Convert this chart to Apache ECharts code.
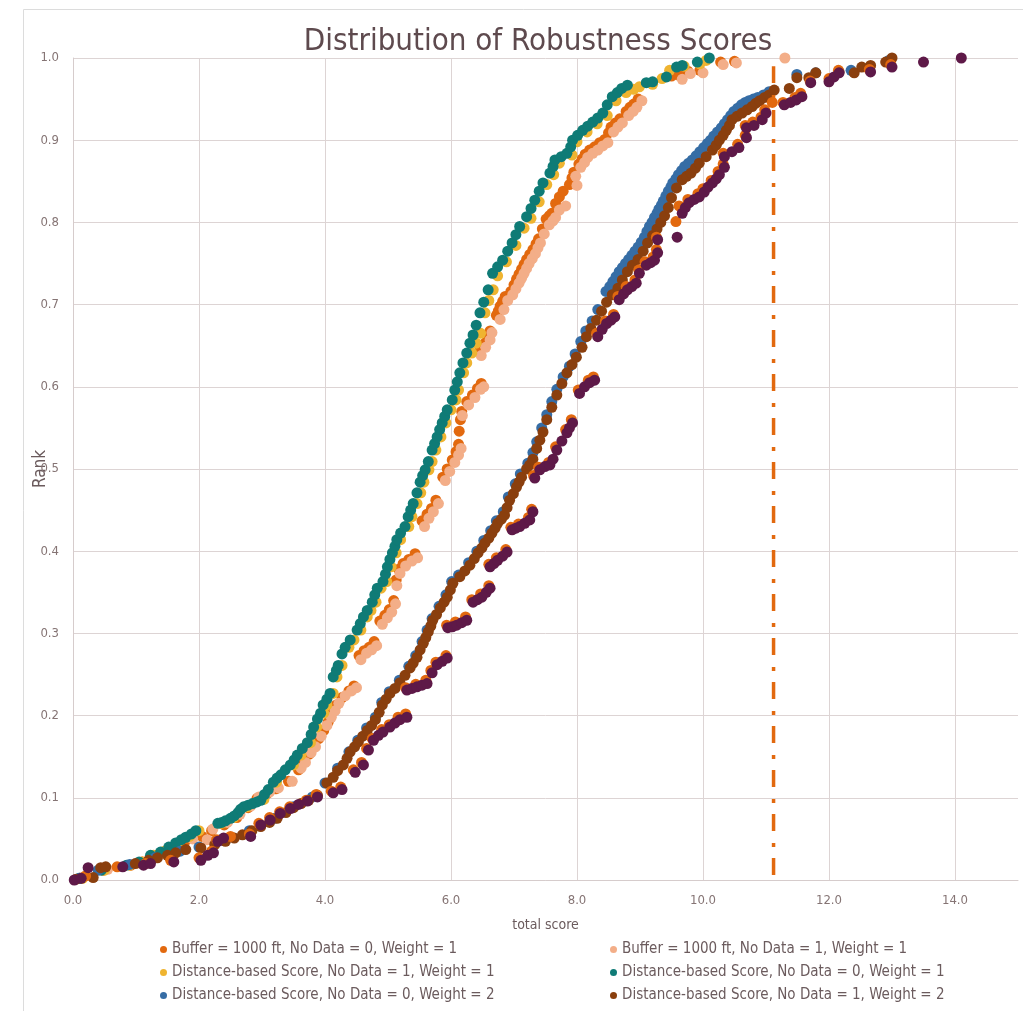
<!DOCTYPE html>
<html>
<head>
<meta charset="utf-8">
<title>Distribution of Robustness Scores</title>
<script src="https://cdn.jsdelivr.net/npm/echarts@6/dist/echarts.min.js"></script>
<style>
  html, body { margin: 0; padding: 0; background: #ffffff; }
  #chart { width: 1023px; height: 1011px; }
</style>
</head>
<body>
<div id="chart"></div>
<script>
// Series labels, in drawing order (later series sit on top)
const seriesNames = [
  'Buffer = 1000 ft, No Data = 0, Weight = 1',
  'Buffer = 1000 ft, No Data = 1, Weight = 1',
  'Distance-based Score, No Data = 1, Weight = 1',
  'Distance-based Score, No Data = 0, Weight = 1',
  'Distance-based Score, No Data = 0, Weight = 2',
  'Distance-based Score, No Data = 1, Weight = 2',
  'Buffer = 1000 ft, No Data = 0, Weight = 2',
  'Buffer = 1000 ft, No Data = 1, Weight = 2'
];

const seriesColors = ['#e2690f', '#f3ae88', '#efb430', '#0f7b76', '#366da5', '#8a3f0e', '#e2690f', '#5e1948'];

// Ticks
const xTicks = [0, 2, 4, 6, 8, 10, 12, 14];
const yTicks = [0, 0.1, 0.2, 0.3, 0.4, 0.5, 0.6, 0.7, 0.8, 0.9, 1.0];

// Threshold score drawn as the dash-dot marker
const thresholdScore = 11.12;
const thresholdRange = [0.006, 0.99];

// [total score, rank]
const bufferNd0W1 = [
  [0.12,0.002],[0.48,0.012],[0.92,0.018],[1.10,0.022],[1.32,0.030],[1.55,0.038],[1.78,0.047],[2.05,0.053],[2.20,0.060],[2.40,0.067],
  [2.60,0.076],[2.78,0.088],[2.92,0.099],[3.08,0.105],[3.22,0.111],[3.42,0.120],[3.58,0.134],[3.66,0.143],[3.75,0.153],[3.83,0.162],
  [3.90,0.172],[3.98,0.182],[4.05,0.192],[4.11,0.203],[4.18,0.213],[4.27,0.222],[4.38,0.230],[4.46,0.236],
  [4.54,0.273],[4.62,0.279],[4.70,0.283],[4.78,0.290],
  [4.87,0.315],[4.95,0.322],[5.02,0.329],[5.09,0.340],
  [5.13,0.365],[5.17,0.378],[5.24,0.385],[5.33,0.390],[5.43,0.397],
  [5.54,0.437],[5.62,0.445],[5.69,0.452],[5.76,0.462],
  [5.87,0.490],[5.94,0.500],[6.02,0.511],[6.08,0.521],[6.12,0.530],
  [6.13,0.546],[6.15,0.560],[6.17,0.570],[6.25,0.582],[6.34,0.590],[6.42,0.598],[6.48,0.604],
  [6.46,0.645],[6.52,0.652],[6.58,0.660],[6.62,0.668],
  [6.72,0.687],[6.75,0.692],[6.78,0.698],[6.82,0.704],[6.86,0.710],[6.95,0.716],[7.00,0.724],[7.04,0.731],[7.08,0.737],[7.12,0.743],
  [7.16,0.749],[7.20,0.755],[7.25,0.761],[7.30,0.767],[7.35,0.774],[7.39,0.780],[7.45,0.792],[7.51,0.804],[7.56,0.808],[7.60,0.811],
  [7.66,0.823],[7.72,0.831],[7.78,0.838],[7.88,0.846],[7.92,0.854],[7.95,0.861],[8.03,0.871],[8.08,0.877],[8.13,0.883],[8.20,0.888],
  [8.28,0.892],[8.36,0.897],[8.44,0.901],[8.50,0.909],[8.54,0.916],[8.61,0.921],[8.68,0.926],[8.78,0.935],[8.84,0.940],[8.90,0.944],
  [8.97,0.950],
  [9.50,0.978],[9.62,0.979],[9.76,0.984],[9.95,0.985],[10.28,0.995],[10.50,0.996]
];

const bufferNd1W1 = [
  [0.18,0.004],[0.55,0.013],[1.08,0.020],[1.40,0.032],[1.65,0.042],[1.90,0.050],[2.13,0.049],[2.22,0.062],[2.45,0.070],[2.65,0.080],
  [2.82,0.090],[2.95,0.101],[3.12,0.107],[3.26,0.112],[3.48,0.120],[3.62,0.136],[3.69,0.143],[3.78,0.155],[3.85,0.162],[3.94,0.175],
  [4.03,0.188],[4.10,0.198],[4.16,0.206],[4.22,0.215],[4.32,0.224],[4.42,0.230],[4.50,0.234],
  [4.57,0.268],[4.66,0.276],[4.74,0.280],[4.82,0.285],
  [4.91,0.311],[4.99,0.319],[5.06,0.326],[5.12,0.336],
  [5.14,0.358],[5.19,0.373],[5.28,0.382],[5.38,0.388],[5.47,0.392],
  [5.58,0.430],[5.65,0.440],[5.72,0.448],[5.80,0.458],
  [5.91,0.486],[5.98,0.497],[6.06,0.508],[6.12,0.517],[6.16,0.525],
  [6.18,0.565],[6.28,0.578],[6.38,0.587],[6.47,0.597],[6.52,0.600],
  [6.48,0.638],[6.55,0.648],[6.62,0.657],[6.65,0.666],
  [6.78,0.682],[6.84,0.694],[6.90,0.705],[6.98,0.712],[7.03,0.719],[7.08,0.726],[7.12,0.732],[7.16,0.738],[7.20,0.744],[7.24,0.750],
  [7.29,0.756],[7.34,0.762],[7.38,0.769],[7.42,0.775],[7.48,0.786],[7.56,0.797],[7.62,0.802],[7.66,0.806],[7.72,0.815],[7.82,0.820],
  [8.00,0.845],[7.98,0.856],[8.06,0.867],[8.12,0.873],[8.17,0.879],[8.25,0.884],[8.33,0.888],[8.41,0.893],[8.49,0.897],[8.58,0.910],
  [8.65,0.916],[8.72,0.921],[8.82,0.930],[8.89,0.935],[8.95,0.940],[9.03,0.948],
  [9.67,0.974],[9.80,0.981],[10.00,0.982],[10.32,0.992],[10.53,0.994],[11.30,1.000]
];

const distNd1W1 = [
  [0.15,0.002],[0.50,0.012],[0.90,0.018],[1.10,0.022],[1.28,0.030],[1.45,0.035],[1.68,0.045],[1.85,0.053],[2.00,0.060],[2.35,0.069],
  [2.55,0.076],[2.76,0.089],[3.03,0.098],[3.23,0.119],[3.50,0.140],[3.62,0.152],[3.77,0.167],[3.87,0.186],[3.98,0.203],[4.03,0.213],
  [4.13,0.227],[4.19,0.247],[4.27,0.261],[4.38,0.283],[4.46,0.292],[4.57,0.304],[4.67,0.320],[4.73,0.328],[4.81,0.338],[4.89,0.355],
  [4.98,0.363],[5.05,0.381],[5.13,0.398],[5.20,0.414],[5.33,0.430],[5.38,0.442],[5.46,0.458],[5.52,0.471],[5.57,0.484],[5.65,0.499],
  [5.70,0.509],[5.76,0.523],[5.84,0.539],[5.92,0.556],[6.00,0.572],[6.08,0.584],[6.12,0.596],[6.20,0.617],[6.25,0.629],[6.33,0.641],
  [6.40,0.653],[6.47,0.665],[6.54,0.690],[6.60,0.705],[6.67,0.718],[6.74,0.735],[6.88,0.752],[7.03,0.772],[7.16,0.793],[7.27,0.805],
  [7.40,0.825],[7.52,0.846],[7.63,0.858],[7.72,0.872],[7.92,0.882],[8.00,0.898],[8.16,0.910],[8.32,0.920],[8.48,0.930],[8.62,0.948],
  [8.78,0.958],[8.90,0.962],[8.99,0.965],[9.20,0.968],[9.35,0.975],[9.47,0.985],[9.70,0.990],[9.95,0.993],[10.05,0.997]
];

const distNd0W1 = [
  [0.10,0.002],[0.45,0.012],[0.85,0.018],[1.05,0.022],[1.23,0.030],[1.39,0.034],[1.52,0.040],[1.63,0.045],[1.72,0.049],[1.79,0.052],
  [1.88,0.056],[1.95,0.060],[2.30,0.069],[2.36,0.070],[2.42,0.072],[2.50,0.075],[2.56,0.078],[2.62,0.082],[2.66,0.086],[2.71,0.089],
  [2.78,0.091],[2.85,0.093],[2.92,0.095],[2.98,0.097],[3.04,0.104],[3.10,0.110],[3.18,0.119],[3.24,0.124],[3.30,0.128],[3.37,0.134],
  [3.45,0.140],[3.51,0.146],[3.56,0.152],[3.64,0.160],[3.72,0.167],[3.78,0.177],[3.82,0.186],[3.88,0.196],[3.93,0.203],
  [3.97,0.213],[4.03,0.220],[4.08,0.227],[4.13,0.247],[4.18,0.255],[4.21,0.261],[4.27,0.275],[4.32,0.283],[4.40,0.292],[4.51,0.304],
  [4.56,0.312],[4.61,0.320],[4.67,0.328],[4.75,0.338],[4.79,0.347],[4.83,0.355],[4.92,0.363],[4.96,0.372],[4.99,0.381],[5.03,0.390],
  [5.07,0.398],[5.11,0.406],[5.14,0.414],[5.20,0.422],[5.27,0.430],[5.32,0.442],[5.36,0.450],[5.40,0.458],[5.46,0.471],[5.51,0.484],
  [5.55,0.492],[5.59,0.499],[5.64,0.509],[5.70,0.523],[5.74,0.531],[5.78,0.539],[5.82,0.548],[5.86,0.556],[5.90,0.564],[5.94,0.572],
  [6.02,0.584],[6.06,0.596],[6.10,0.606],[6.14,0.617],[6.19,0.629],[6.25,0.641],[6.30,0.653],[6.35,0.663],[6.40,0.675],[6.46,0.690],
  [6.52,0.703],[6.59,0.718],[6.66,0.738],[6.74,0.746],[6.82,0.754],[6.90,0.765],[6.97,0.775],[7.03,0.785],[7.09,0.795],[7.20,0.807],
  [7.27,0.817],[7.33,0.827],[7.40,0.838],[7.46,0.848],[7.57,0.860],[7.62,0.868],[7.65,0.876],[7.75,0.880],[7.84,0.884],[7.90,0.892],
  [7.93,0.900],[8.01,0.906],[8.09,0.912],[8.17,0.917],[8.25,0.922],[8.33,0.927],[8.41,0.933],[8.48,0.943],[8.56,0.953],[8.64,0.958],
  [8.71,0.963],[8.80,0.967],[9.10,0.970],[9.20,0.971],[9.42,0.977],[9.58,0.989],[9.67,0.991],[9.91,0.995],[10.10,1.000]
];

const distNd0W2 = [
  [0.10,0.002],[0.40,0.012],[0.90,0.019],[1.30,0.027],[1.70,0.035],[2.00,0.040],[2.40,0.048],[2.80,0.060],[3.20,0.075],[3.50,0.089],
  [3.80,0.101],[4.00,0.118],[4.20,0.136],[4.38,0.156],[4.52,0.170],[4.66,0.185],[4.80,0.198],[4.90,0.216],[5.02,0.229],[5.18,0.243],
  [5.33,0.260],[5.44,0.273],[5.54,0.290],[5.62,0.304],[5.70,0.318],[5.81,0.333],[5.92,0.347],[6.01,0.363],[6.12,0.371],[6.28,0.386],
  [6.41,0.400],[6.52,0.413],[6.63,0.425],[6.72,0.437],[6.83,0.448],[6.91,0.466],[7.02,0.482],[7.10,0.494],[7.22,0.507],[7.30,0.520],
  [7.36,0.533],[7.44,0.550],[7.52,0.566],[7.60,0.582],[7.68,0.597],[7.78,0.612],[7.88,0.625],[7.97,0.640],[8.06,0.655],[8.14,0.668],
  [8.24,0.680],[8.33,0.694],[8.46,0.716],[8.52,0.722],[8.57,0.728],[8.62,0.734],[8.67,0.740],[8.72,0.745],[8.77,0.750],[8.82,0.755],
  [8.87,0.760],[8.92,0.765],[8.97,0.770],[9.02,0.776],[9.07,0.782],[9.11,0.789],[9.15,0.795],[9.19,0.800],[9.23,0.806],[9.27,0.811],
  [9.30,0.816],[9.34,0.821],[9.37,0.826],[9.41,0.832],[9.45,0.838],[9.49,0.843],[9.52,0.848],[9.57,0.853],[9.61,0.858],[9.66,0.863],
  [9.71,0.868],[9.77,0.872],[9.83,0.876],[9.89,0.881],[9.95,0.886],[10.01,0.891],[10.07,0.896],[10.12,0.900],[10.17,0.905],[10.23,0.910],
  [10.29,0.915],[10.34,0.920],[10.39,0.925],[10.44,0.930],[10.49,0.935],[10.55,0.939],[10.61,0.943],[10.67,0.946],[10.73,0.948],[10.80,0.950],
  [10.87,0.952],[10.96,0.955],[11.05,0.959],[11.49,0.980],[11.79,0.982],[12.35,0.985],[12.95,0.997]
];

const distNd1W2 = [
  [0.05,0.001],[0.32,0.003],[0.44,0.015],[0.52,0.016],[0.99,0.020],[1.20,0.024],[1.34,0.027],[1.50,0.030],[1.63,0.033],[1.79,0.037],
  [2.03,0.039],[2.25,0.043],[2.42,0.047],[2.56,0.051],[2.69,0.055],[2.84,0.060],[2.98,0.065],[3.12,0.070],[3.24,0.075],[3.38,0.082],
  [3.50,0.088],[3.62,0.093],[3.74,0.097],[3.88,0.103],[4.03,0.118],[4.13,0.125],[4.20,0.133],[4.29,0.140],[4.35,0.148],[4.40,0.156],
  [4.47,0.162],[4.53,0.168],[4.60,0.175],[4.67,0.182],[4.74,0.188],[4.80,0.195],[4.86,0.204],[4.91,0.213],[4.97,0.220],[5.03,0.227],
  [5.11,0.233],[5.19,0.240],[5.27,0.249],[5.35,0.258],[5.40,0.264],[5.46,0.271],[5.51,0.280],[5.56,0.288],[5.60,0.295],[5.64,0.302],
  [5.68,0.309],[5.71,0.316],[5.77,0.323],[5.83,0.331],[5.89,0.338],[5.94,0.344],[5.99,0.353],[6.03,0.361],[6.14,0.369],[6.22,0.376],
  [6.30,0.383],[6.37,0.391],[6.43,0.398],[6.49,0.404],[6.54,0.410],[6.60,0.416],[6.65,0.422],[6.70,0.428],[6.74,0.434],[6.80,0.439],
  [6.85,0.444],[6.89,0.453],[6.93,0.462],[6.99,0.470],[7.04,0.478],[7.08,0.484],[7.12,0.490],[7.20,0.500],[7.25,0.505],[7.30,0.512],
  [7.36,0.525],[7.41,0.535],[7.46,0.545],[7.52,0.560],[7.60,0.575],[7.68,0.590],[7.76,0.604],[7.84,0.617],[7.92,0.627],[7.99,0.636],
  [8.08,0.648],[8.15,0.661],[8.22,0.671],[8.31,0.681],[8.39,0.692],[8.47,0.703],[8.56,0.712],[8.65,0.720],[8.72,0.730],[8.80,0.740],
  [8.88,0.748],[8.97,0.755],[9.05,0.765],[9.12,0.775],[9.20,0.784],[9.27,0.792],[9.33,0.800],[9.39,0.808],[9.45,0.818],[9.50,0.830],
  [9.58,0.842],[9.67,0.852],[9.74,0.856],[9.81,0.860],[9.88,0.866],[9.94,0.872],[10.05,0.880],[10.15,0.888],[10.21,0.894],[10.26,0.900],
  [10.32,0.906],[10.37,0.912],[10.42,0.918],[10.46,0.925],[10.54,0.929],[10.62,0.933],[10.70,0.937],[10.78,0.941],[10.84,0.945],[10.90,0.948],
  [10.98,0.952],[11.05,0.955],[11.13,0.961],[11.37,0.963],[11.49,0.976],[11.68,0.976],[11.79,0.982],[12.16,0.983],[12.40,0.982],[12.52,0.989],
  [12.66,0.991],[12.90,0.995],[13.00,1.000]
];

const bufferNd0W2 = [
  [0.20,0.005],[0.70,0.016],[1.15,0.020],[1.55,0.024],[2.00,0.027],[2.20,0.035],[2.28,0.049],[2.50,0.053],[2.80,0.056],[2.95,0.069],
  [3.12,0.076],[3.28,0.083],[3.44,0.089],[3.70,0.097],[3.86,0.104],[4.10,0.108],[4.25,0.113],[4.45,0.134],[4.58,0.143],[4.66,0.160],
  [4.75,0.172],[4.90,0.183],[5.02,0.189],[5.16,0.198],[5.28,0.202],
  [5.28,0.234],[5.44,0.238],[5.60,0.243],[5.68,0.255],[5.76,0.265],[5.92,0.273],
  [5.93,0.310],[6.07,0.314],[6.23,0.320],
  [6.33,0.341],[6.47,0.348],[6.60,0.358],
  [6.60,0.384],[6.72,0.392],[6.87,0.402],
  [6.95,0.429],[7.07,0.433],[7.23,0.441],[7.28,0.451],
  [7.31,0.492],[7.39,0.502],[7.55,0.508],[7.66,0.527],[7.82,0.548],[7.91,0.560],
  [8.02,0.596],[8.18,0.608],[8.26,0.612],
  [8.31,0.665],[8.45,0.680],[8.58,0.688],[8.65,0.710],[8.78,0.722],[8.92,0.730],[8.98,0.742],[9.08,0.752],[9.21,0.758],[9.26,0.767],
  [9.26,0.782],[9.57,0.801],[9.62,0.820],[9.76,0.828],[9.92,0.835],[10.00,0.841],[10.13,0.851],[10.24,0.862],[10.32,0.871],[10.32,0.884],
  [10.55,0.895],[10.67,0.906],[10.67,0.918],[10.79,0.922],[10.92,0.928],[10.98,0.937],[11.10,0.946],[11.27,0.946],[11.46,0.952],[11.55,0.957],
  [11.70,0.972],[12.00,0.975],[12.15,0.985],[12.64,0.986],[12.98,0.992]
];

const bufferNd1W2 = [
  [0.02,0.000],[0.13,0.002],[0.24,0.015],[0.79,0.016],[1.12,0.018],[1.23,0.020],[1.60,0.022],[2.03,0.024],[2.14,0.030],[2.23,0.033],
  [2.30,0.047],[2.39,0.051],[2.82,0.053],[2.98,0.067],[3.13,0.073],[3.29,0.081],[3.45,0.087],[3.58,0.092],[3.72,0.096],[3.88,0.101],
  [4.13,0.106],[4.27,0.110],
  [4.48,0.131],[4.61,0.140],[4.69,0.158],[4.77,0.170],[4.85,0.176],[4.92,0.180],[5.03,0.186],[5.11,0.191],[5.19,0.195],[5.30,0.198],
  [5.30,0.231],[5.38,0.233],[5.46,0.235],[5.54,0.237],[5.62,0.239],[5.70,0.252],[5.78,0.262],[5.86,0.266],[5.94,0.270],
  [5.95,0.307],[6.02,0.308],[6.09,0.310],[6.17,0.313],[6.25,0.316],
  [6.35,0.338],[6.42,0.341],[6.49,0.344],[6.56,0.350],[6.62,0.355],
  [6.62,0.381],[6.68,0.385],[6.74,0.389],[6.82,0.394],[6.89,0.399],
  [6.97,0.426],[7.03,0.428],[7.09,0.430],[7.17,0.434],[7.25,0.438],[7.30,0.448],
  [7.33,0.489],[7.41,0.499],[7.49,0.503],[7.57,0.505],[7.62,0.512],[7.68,0.523],[7.76,0.534],[7.84,0.544],[7.88,0.550],[7.93,0.556],
  [8.04,0.592],[8.12,0.600],[8.20,0.605],[8.28,0.608],
  [8.33,0.661],[8.40,0.670],[8.47,0.677],[8.54,0.681],[8.60,0.685],[8.67,0.706],[8.74,0.713],[8.80,0.718],[8.87,0.722],[8.94,0.726],
  [8.99,0.738],[9.10,0.748],[9.17,0.751],[9.23,0.754],[9.28,0.763],[9.28,0.779],[9.59,0.782],[9.67,0.811],[9.72,0.818],[9.78,0.824],
  [9.86,0.828],[9.94,0.831],[10.02,0.837],[10.08,0.843],[10.15,0.848],[10.21,0.853],[10.26,0.858],[10.34,0.867],[10.34,0.880],[10.46,0.886],
  [10.57,0.891],[10.69,0.903],[10.69,0.915],[10.81,0.918],[10.94,0.925],[11.00,0.933],[11.29,0.943],[11.39,0.946],[11.48,0.949],[11.57,0.953],
  [11.71,0.970],[12.00,0.971],[12.08,0.977],[12.16,0.982],[12.66,0.983],[13.00,0.989],[13.50,0.995],[14.10,1.000]
];

const seriesData = [bufferNd0W1, bufferNd1W1, distNd1W1, distNd0W1, distNd0W2, distNd1W2, bufferNd0W2, bufferNd1W2];

const FONT = "'Liberation Sans Narrow', 'DejaVu Sans Condensed', 'Open Sans', sans-serif";
const TEXT = '#6b5b5d';
const GRID_LINE = '#ddd4d4';
const LEGEND_ICON = 'path://M50,0A50,50 0 1,1 50,100A50,50 0 1,1 50,0Z';

const chart = echarts.init(document.getElementById('chart'), null, { renderer: 'canvas' });

const scatterSeries = seriesNames.map((name, i) => ({
  name: name,
  type: 'scatter',
  data: seriesData[i],
  symbol: 'circle',
  symbolSize: 11,
  itemStyle: { color: seriesColors[i], opacity: 1 },
  emphasis: { disabled: true },
  silent: true,
  z: 2 + i
}));

const thresholdSeries = {
  name: 'threshold',
  type: 'line',
  data: [[thresholdScore, thresholdRange[0]], [thresholdScore, thresholdRange[1]]],
  symbol: 'none',
  lineStyle: { color: '#e2690f', width: 3.5, type: [17, 11, 4, 12] },
  silent: true,
  z: 20
};

const legendText = { fontFamily: FONT, fontSize: 15, color: TEXT, lineHeight: 15 };

chart.setOption({
  animation: false,
  backgroundColor: '#ffffff',
  title: {
    text: 'Distribution of Robustness Scores',
    left: 533,
    textAlign: 'center',
    top: 21,
    textStyle: { fontFamily: FONT, fontSize: 31, fontWeight: 'normal', color: '#5e4a4e' }
  },
  graphic: [
    { type: 'polyline', shape: { points: [[23.5, 1011], [23.5, 9.5], [1023, 9.5]] }, style: { stroke: '#dcdcdc', lineWidth: 1, fill: null }, silent: true }
  ],
  grid: { left: 73, right: 5, top: 58, bottom: 131, containLabel: false },
  legend: [
    {
      data: [seriesNames[0], seriesNames[2], seriesNames[4]],
      orient: 'vertical', left: 155, top: 937, itemGap: 8,
      icon: LEGEND_ICON, itemWidth: 7, itemHeight: 10,
      textStyle: legendText, selectedMode: false
    },
    {
      data: [seriesNames[1], seriesNames[3], seriesNames[5]],
      orient: 'vertical', left: 605, top: 937, itemGap: 8,
      icon: LEGEND_ICON, itemWidth: 7, itemHeight: 10,
      textStyle: legendText, selectedMode: false
    }
  ],
  xAxis: {
    type: 'value',
    min: 0, max: 15, interval: 2,
    name: 'total score',
    nameLocation: 'middle',
    nameGap: 38,
    nameTextStyle: { fontFamily: FONT, fontSize: 14, color: TEXT },
    axisLine: { show: true, lineStyle: { color: '#d6cccc', width: 1 } },
    axisTick: { show: false },
    axisLabel: {
      margin: 14, fontFamily: FONT, fontSize: 13, color: '#857474', showMaxLabel: false,
      formatter: v => (xTicks.indexOf(v) >= 0 ? v.toFixed(1) : '')
    },
    splitLine: { show: true, showMaxLine: false, lineStyle: { color: GRID_LINE, width: 1 } }
  },
  yAxis: {
    type: 'value',
    min: 0, max: 1, interval: 0.1,
    name: 'Rank',
    nameLocation: 'middle',
    nameRotate: 90,
    nameGap: 24,
    nameMoveOverlap: false,
    nameTextStyle: { fontFamily: FONT, fontSize: 17, color: TEXT },
    axisLine: { show: true, lineStyle: { color: '#d6cccc', width: 1 } },
    axisTick: { show: false },
    axisLabel: {
      margin: 14, fontFamily: FONT, fontSize: 13, color: '#857474',
      formatter: v => {
        const hit = yTicks.find(t => Math.abs(t - v) < 1e-9);
        return hit === undefined ? '' : hit.toFixed(1);
      }
    },
    splitLine: { show: true, lineStyle: { color: GRID_LINE, width: 1 } }
  },
  series: scatterSeries.concat([thresholdSeries])
});
</script>
</body>
</html>
